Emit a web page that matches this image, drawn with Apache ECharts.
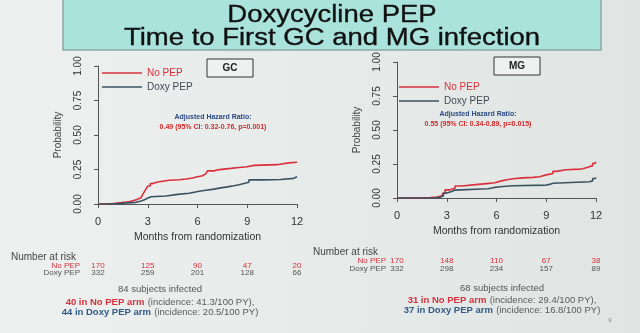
<!DOCTYPE html>
<html><head><meta charset="utf-8">
<script src="https://cdn.jsdelivr.net/npm/echarts@6/dist/echarts.min.js"></script>
<style>html,body{margin:0;padding:0;background:#e7ebe9}#c{width:640px;height:333px}</style>
</head><body><div id="c"></div>
<script>
// ---- data ----
const xTicks = [0, 3, 6, 9, 12];
const gcNoPepT = [0, 0.4, 0.9, 1.4, 1.7, 1.9, 2.1, 2.3, 2.45, 2.6, 2.7, 2.8, 2.9, 3.0, 3.15, 3.3, 3.6, 4.3, 4.9, 5.3, 5.7, 6.0, 6.3, 6.5, 6.6, 7.0, 7.2, 7.6, 8.0, 8.5, 9.0, 9.4, 10.8, 11.5, 12];
const gcNoPepS = [0, 0.004, 0.01, 0.014, 0.018, 0.024, 0.03, 0.038, 0.046, 0.055, 0.07, 0.09, 0.11, 0.13, 0.148, 0.16, 0.172, 0.176, 0.181, 0.188, 0.197, 0.205, 0.218, 0.23, 0.24, 0.247, 0.253, 0.258, 0.265, 0.27, 0.28, 0.285, 0.298, 0.303, 0.303];
const gcDoxyT = [0, 0.5, 1.2, 1.8, 2.3, 2.6, 2.8, 2.95, 3.2, 4.1, 4.8, 5.5, 5.8, 6.1, 6.5, 7.0, 7.4, 7.8, 8.2, 8.5, 8.8, 9.1, 10.0, 11.0, 11.8, 12];
const gcDoxyS = [0, 0.004, 0.008, 0.012, 0.022, 0.03, 0.04, 0.052, 0.058, 0.07, 0.078, 0.085, 0.092, 0.1, 0.108, 0.117, 0.124, 0.132, 0.14, 0.149, 0.158, 0.175, 0.178, 0.186, 0.197, 0.197];
const mgNoPepT = [0, 1.0, 2.0, 2.4, 2.6, 2.75, 2.9, 3.2, 3.5, 3.9, 4.9, 5.4, 5.9, 6.3, 6.7, 7.0, 7.6, 8.2, 8.6, 9.0, 9.4, 9.6, 10.2, 11.0, 11.2, 11.5, 11.8, 11.95, 12];
const mgNoPepS = [0, 0.003, 0.007, 0.012, 0.02, 0.035, 0.06, 0.072, 0.088, 0.1, 0.106, 0.112, 0.126, 0.136, 0.142, 0.148, 0.152, 0.156, 0.17, 0.18, 0.196, 0.208, 0.212, 0.215, 0.226, 0.238, 0.255, 0.266, 0.266];
const mgDoxyT = [0, 2.3, 2.6, 2.8, 3.0, 3.3, 3.5, 5.1, 5.5, 5.8, 6.2, 7.0, 9.0, 9.2, 9.4, 11.6, 11.8, 11.95, 12];
const mgDoxyS = [0, 0.005, 0.017, 0.036, 0.048, 0.058, 0.066, 0.068, 0.076, 0.083, 0.09, 0.095, 0.1, 0.108, 0.12, 0.126, 0.143, 0.15, 0.15];
const gcRiskNoPep = [170, 125, 90, 47, 20];
const gcRiskDoxy = [332, 259, 201, 128, 66];
const mgRiskNoPep = [170, 148, 110, 67, 38];
const mgRiskDoxy = [332, 298, 234, 157, 89];
const titleLines = ['Doxycycline PEP', 'Time to First GC and MG infection'];
const panelLabels = ['GC', 'MG'];
const hrText = ['0.49 (95% CI: 0.32-0.76, p=0.001)', '0.55 (95% CI: 0.34-0.89, p=0.015)'];
const infectedText = ['84 subjects infected', '68 subjects infected'];
const noPepArm = [['40 in No PEP arm', '(incidence: 41.3/100 PY),'], ['31 in No PEP arm', '(incidence: 29.4/100 PY),']];
const doxyArm = [['44 in Doxy PEP arm', '(incidence: 20.5/100 PY)'], ['37 in Doxy PEP arm', '(incidence: 16.8/100 PY)']];

const RED = '#d8303c', BLUE = '#3b5263', FONT = '"Liberation Sans", Arial, sans-serif';
const zip = (t, s) => t.map((v, i) => [v, s[i]]);

function xAx(i) {
  return {gridIndex: i, type: 'value', min: 0, max: 12, interval: 3, offset: 6,
    name: 'Months from randomization', nameLocation: 'middle', nameGap: 22,
    nameTextStyle: {fontSize: 10.5, color: '#333', fontFamily: FONT},
    axisLine: {lineStyle: {color: '#555', width: 1}},
    axisTick: {length: 4, lineStyle: {color: '#555'}},
    axisLabel: {fontSize: 11, color: '#333', margin: 6, fontFamily: FONT},
    splitLine: {show: false}};
}
function yAx(i) {
  return {gridIndex: i, type: 'value', min: 0, max: 1, interval: 0.25, offset: 8,
    name: 'Probability', nameLocation: 'middle', nameGap: 27,
    nameTextStyle: {fontSize: 10, color: '#444', fontFamily: FONT},
    axisLine: {show: true, lineStyle: {color: '#555', width: 1}},
    axisTick: {show: true, length: 4, lineStyle: {color: '#555'}},
    axisLabel: {rotate: 90, fontSize: 10, color: '#333', margin: 7, fontFamily: FONT,
      formatter: v => v.toFixed(2)},
    splitLine: {show: false}};
}
function ser(name, i, t, s, color) {
  return {name, type: 'line', xAxisIndex: i, yAxisIndex: i, step: 'end', symbol: 'none', showSymbol: false,
    data: zip(t, s), lineStyle: {color, width: 1.6}, itemStyle: {color}};
}
function leg(left, top) {
  return {left, top, padding: 0, orient: 'vertical', icon: 'rect', itemWidth: 40, itemHeight: 1.6, itemGap: 4,
    textStyle: {fontSize: 10, lineHeight: 10, fontFamily: FONT},
    data: [{name: 'No PEP', textStyle: {color: RED}}, {name: 'Doxy PEP', textStyle: {color: '#3f4b57'}}]};
}

const chart = echarts.init(document.getElementById('c'));
chart.setOption({
  backgroundColor: {type: 'linear', x: 0, y: 0, x2: 1, y2: 0,
    colorStops: [{offset: 0, color: '#edf0ee'}, {offset: 1, color: '#e0e5e3'}]},
  animation: false,
  grid: [{left: 98, top: 66, width: 199, height: 138}, {left: 397, top: 62, width: 199, height: 136}],
  xAxis: [xAx(0), xAx(1)],
  yAxis: [yAx(0), yAx(1)],
  legend: [leg(102, 68), leg(399, 82)],
  series: [
    ser('No PEP', 0, gcNoPepT, gcNoPepS, RED), ser('Doxy PEP', 0, gcDoxyT, gcDoxyS, BLUE),
    ser('No PEP', 1, mgNoPepT, mgNoPepS, RED), ser('Doxy PEP', 1, mgDoxyT, mgDoxyS, BLUE)
  ]
});

const g = [];
// title box
g.push({type: 'rect', shape: {x: 63, y: -5, width: 538, height: 55},
  style: {fill: '#aae3dc', stroke: '#8aa9a6', lineWidth: 1.5}});
titleLines.forEach((t, k) => g.push({type: 'text', x: 332, y: 16 + k * 22.5, scaleY: 0.85,
  style: {text: t, font: '27.5px ' + FONT, fill: '#111', stroke: '#111', lineWidth: 0.4,
    textAlign: 'center', textVerticalAlign: 'middle'}}));
// panel label boxes
[[207, 59], [494, 57]].forEach((p, k) => {
  g.push({type: 'rect', shape: {x: p[0], y: p[1], width: 46, height: 18},
    style: {fill: '#eef1ef', stroke: '#333', lineWidth: 1}});
  g.push({type: 'text', x: p[0] + 23, y: p[1] + 9.5,
    style: {text: panelLabels[k], font: 'bold 10px ' + FONT, fill: '#222', textAlign: 'center', textVerticalAlign: 'middle'}});
});
// hazard ratio annotation
[[213, 117], [478, 114]].forEach((p, k) => {
  g.push({type: 'text', x: p[0], y: p[1], style: {text: 'Adjusted Hazard Ratio:', font: 'bold 7px ' + FONT,
    fill: '#2b4a86', textAlign: 'center', textVerticalAlign: 'middle'}});
  g.push({type: 'text', x: p[0], y: p[1] + 10, style: {text: hrText[k], font: 'bold 7px ' + FONT,
    fill: '#d42a2a', textAlign: 'center', textVerticalAlign: 'middle'}});
});
// number at risk tables
const tables = [
  {grid: 0, nar: [11, 257], label: 80, rows: [266, 273], no: gcRiskNoPep, dx: gcRiskDoxy, cx: 160, ty: [289, 302, 312]},
  {grid: 1, nar: [313, 252], label: 386, rows: [261, 269], no: mgRiskNoPep, dx: mgRiskDoxy, cx: 502, ty: [288, 300, 310]}
];
tables.forEach((tb, k) => {
  g.push({type: 'text', x: tb.nar[0], y: tb.nar[1], style: {text: 'Number at risk', font: '10px ' + FONT,
    fill: '#444', textAlign: 'left', textVerticalAlign: 'middle'}});
  g.push({type: 'text', x: tb.label, y: tb.rows[0], style: {text: 'No PEP', font: '8px ' + FONT,
    fill: RED, textAlign: 'right', textVerticalAlign: 'middle'}});
  g.push({type: 'text', x: tb.label, y: tb.rows[1], style: {text: 'Doxy PEP', font: '8px ' + FONT,
    fill: '#555', textAlign: 'right', textVerticalAlign: 'middle'}});
  xTicks.forEach((m, j) => {
    const px = chart.convertToPixel({xAxisIndex: tb.grid}, m);
    g.push({type: 'text', x: px, y: tb.rows[0], style: {text: String(tb.no[j]), font: '8px ' + FONT,
      fill: RED, textAlign: 'center', textVerticalAlign: 'middle'}});
    g.push({type: 'text', x: px, y: tb.rows[1], style: {text: String(tb.dx[j]), font: '8px ' + FONT,
      fill: '#555', textAlign: 'center', textVerticalAlign: 'middle'}});
  });
  g.push({type: 'text', x: tb.cx, y: tb.ty[0], style: {text: infectedText[k], font: '9.5px ' + FONT,
    fill: '#555', textAlign: 'center', textVerticalAlign: 'middle'}});
  const rich = {r: {fill: RED, fontWeight: 'bold', fontSize: 9.5, fontFamily: FONT},
    b: {fill: '#2f5a86', fontWeight: 'bold', fontSize: 9.5, fontFamily: FONT},
    n: {fill: '#5a5a5a', fontSize: 9.5, fontFamily: FONT}};
  g.push({type: 'text', x: tb.cx, y: tb.ty[1], style: {text: '{r|' + noPepArm[k][0] + '} {n|' + noPepArm[k][1] + '}',
    rich, textAlign: 'center', textVerticalAlign: 'middle'}});
  g.push({type: 'text', x: tb.cx, y: tb.ty[2], style: {text: '{b|' + doxyArm[k][0] + '} {n|' + doxyArm[k][1] + '}',
    rich, textAlign: 'center', textVerticalAlign: 'middle'}});
});
g.push({type: 'text', x: 610, y: 320, style: {text: '9', font: '6px ' + FONT, fill: '#888', textAlign: 'center', textVerticalAlign: 'middle'}});
chart.setOption({graphic: g});
</script></body></html>
